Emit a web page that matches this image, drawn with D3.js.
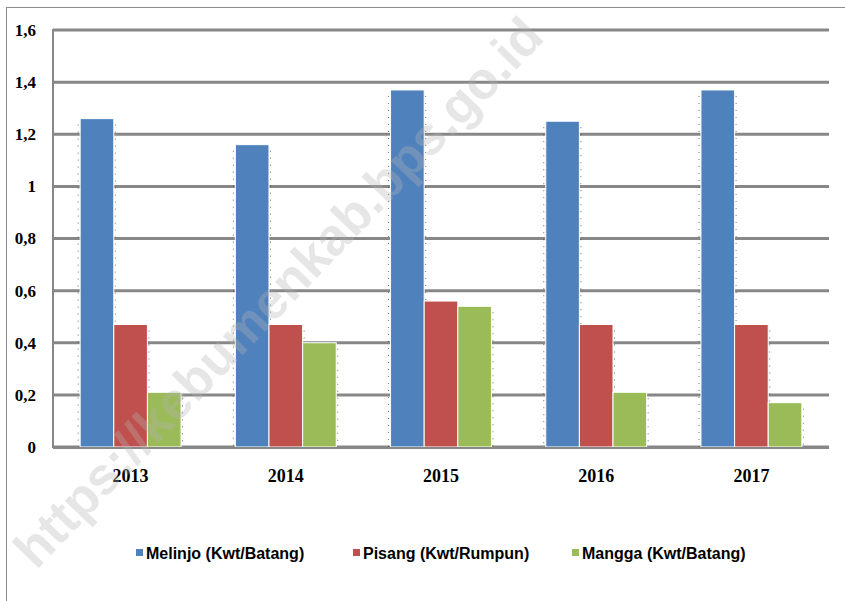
<!DOCTYPE html>
<html>
<head>
<meta charset="utf-8">
<script src="https://cdn.jsdelivr.net/npm/d3@7"></script>
<style>
  html, body { margin: 0; padding: 0; background: #fff; }
  svg { display: block; }
</style>
</head>
<body>
<svg id="chart" width="845" height="601"></svg>
<script>
const years = ["2013", "2014", "2015", "2016", "2017"];
const seriesNames = ["Melinjo (Kwt/Batang)", "Pisang (Kwt/Rumpun)", "Mangga (Kwt/Batang)"];
const melinjo = [1.26, 1.16, 1.37, 1.25, 1.37];
const pisang  = [0.47, 0.47, 0.56, 0.47, 0.47];
const mangga  = [0.21, 0.40, 0.54, 0.21, 0.17];
const yTicks = [0, 0.2, 0.4, 0.6, 0.8, 1, 1.2, 1.4, 1.6];
const colors = ["#4F81BD", "#C0504D", "#9BBB59"];
const watermark = "https://kebumenkab.bps.go.id";

const seriesValues = [melinjo, pisang, mangga];
const svg = d3.select("#chart");
const axisFont = "'Liberation Serif', 'Times New Roman', serif";
const legendFont = "'Liberation Sans Narrow', 'Liberation Sans', Arial, sans-serif";

const plotL = 53, plotR = 829, plotT = 30, plotB = 447;

const y = d3.scaleLinear().domain([0, 1.6]).range([plotB, plotT]);
const x0 = d3.scaleBand().domain(years).range([plotL, plotR]).paddingInner(0.35).paddingOuter(0.175);
const x1 = d3.scaleBand().domain(d3.range(seriesNames.length)).range([0, x0.bandwidth()]);

// outer frame
svg.append("line").attr("x1", 6.5).attr("x2", 6.5).attr("y1", 7).attr("y2", 601)
  .attr("stroke", "#8c8c8c").attr("stroke-width", 1);
svg.append("line").attr("x1", 6).attr("x2", 845).attr("y1", 7.5).attr("y2", 7.5)
  .attr("stroke", "#8c8c8c").attr("stroke-width", 1);

// gridlines
svg.append("g").selectAll("line").data(yTicks).join("line")
  .attr("x1", plotL).attr("x2", plotR)
  .attr("y1", d => y(d)).attr("y2", d => y(d))
  .attr("stroke", "#878787").attr("stroke-width", 3);

// y axis line
svg.append("line").attr("x1", plotL).attr("x2", plotL).attr("y1", y(1.6) - 1).attr("y2", y(0) + 1)
  .attr("stroke", "#878787").attr("stroke-width", 2);

// y axis tick labels
const yAxis = d3.axisLeft(y).tickValues(yTicks).tickSize(0).tickPadding(0)
  .tickFormat(d => String(d).replace(".", ","));
const yg = svg.append("g").attr("transform", `translate(${36},0)`).call(yAxis);
yg.select(".domain").remove();
yg.selectAll("text").attr("font-family", axisFont).attr("font-weight", "bold")
  .attr("font-size", 17).attr("fill", "#000").attr("dy", "0.32em");

// x axis labels
const xAxis = d3.axisBottom(x0).tickSize(0).tickPadding(0);
const xg = svg.append("g").attr("transform", `translate(0,${469})`).call(xAxis);
xg.select(".domain").remove();
xg.selectAll("text").attr("font-family", axisFont).attr("font-weight", "bold")
  .attr("font-size", 18).attr("fill", "#000");

// bar groups
const groups = svg.append("g").selectAll("g").data(years).join("g")
  .attr("transform", d => `translate(${x0(d)},0)`);

const barData = (yr, i) => seriesValues.map((vals, s) => ({ s, v: vals[i] }));

// dotted shadow outline behind bars
groups.each(function (yr, i) {
  const g = d3.select(this);
  barData(yr, i).forEach(b => {
    const xa = x1(b.s) - 2, xb = x1(b.s) + x1.bandwidth() + 1.5;
    [xa, xb].forEach(xx => {
      g.append("line").attr("x1", xx).attr("x2", xx)
        .attr("y1", y(b.v) + 6).attr("y2", y(0))
        .attr("stroke", "#333").attr("stroke-width", 1)
        .attr("stroke-dasharray", "1,6").attr("opacity", 0.7);
    });
  });
});

groups.selectAll("rect").data((yr, i) => barData(yr, i)).join("rect")
  .attr("x", d => x1(d.s))
  .attr("width", x1.bandwidth())
  .attr("y", d => y(d.v))
  .attr("height", d => y(0) - y(d.v))
  .attr("fill", d => colors[d.s])
  .attr("stroke", "#fff").attr("stroke-width", 1);

// baseline redraw over bars
svg.append("line").attr("x1", plotL).attr("x2", plotR).attr("y1", y(0) + 1).attr("y2", y(0) + 1)
  .attr("stroke", "#878787").attr("stroke-width", 2);

// legend
const legendX = [136, 353, 572];
const lg = svg.append("g").selectAll("g").data(seriesNames).join("g")
  .attr("transform", (d, i) => `translate(${legendX[i]},${553})`);
lg.append("rect").attr("x", 0).attr("y", -4).attr("width", 7).attr("height", 7)
  .attr("fill", (d, i) => colors[i]);
lg.append("text").attr("x", 10).attr("y", 0).attr("dy", "0.35em")
  .attr("font-family", legendFont).attr("font-weight", "bold").attr("font-size", 16)
  .attr("fill", "#000").text(d => d);

// watermark
svg.append("text")
  .attr("transform", "translate(278,292) rotate(-46.2)")
  .attr("text-anchor", "middle").attr("dy", "0.35em")
  .attr("font-family", "'Liberation Sans', Arial, sans-serif").attr("font-weight", "bold")
  .attr("font-size", 52).attr("fill", "#b4b4b4").attr("opacity", 0.33)
  .text(watermark);
</script>
</body>
</html>
